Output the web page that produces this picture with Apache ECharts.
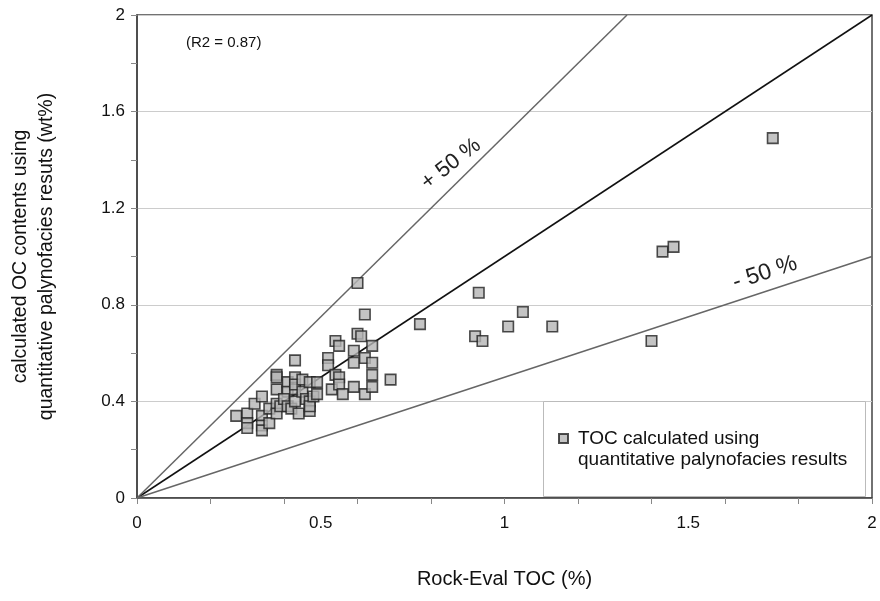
<!DOCTYPE html>
<html>
<head>
<meta charset="utf-8">
<script src="https://cdn.jsdelivr.net/npm/echarts@6/dist/echarts.min.js"></script>
<style>html,body{margin:0;padding:0;background:#fff}#c{width:880px;height:601px}</style>
</head>
<body>
<div id="c"></div>
<script>
// Rock-Eval TOC (%) vs calculated OC (wt%)
const tocPoints = [
  [0.27,0.34],
  [0.30,0.35],[0.30,0.31],[0.30,0.29],
  [0.32,0.39],
  [0.34,0.42],[0.34,0.34],[0.34,0.30],[0.34,0.28],
  [0.36,0.31],[0.36,0.37],
  [0.38,0.51],[0.38,0.50],[0.38,0.45],[0.38,0.39],[0.38,0.35],
  [0.39,0.38],
  [0.41,0.48],[0.41,0.44],[0.40,0.41],[0.41,0.38],[0.42,0.37],
  [0.43,0.57],[0.43,0.50],[0.43,0.45],[0.43,0.40],[0.43,0.47],
  [0.44,0.35],
  [0.45,0.49],[0.45,0.44],[0.46,0.41],
  [0.47,0.48],[0.47,0.40],[0.47,0.36],[0.47,0.38],
  [0.48,0.42],[0.49,0.48],[0.49,0.43],
  [0.52,0.58],[0.52,0.55],[0.53,0.45],
  [0.54,0.65],[0.55,0.63],[0.54,0.51],[0.55,0.50],[0.55,0.47],[0.56,0.43],
  [0.59,0.61],[0.59,0.56],[0.59,0.46],
  [0.60,0.89],[0.60,0.68],[0.61,0.67],
  [0.62,0.76],[0.62,0.58],[0.62,0.43],
  [0.64,0.63],[0.64,0.56],[0.64,0.51],[0.64,0.46],
  [0.69,0.49],
  [0.77,0.72],[0.93,0.85],[0.92,0.67],[0.94,0.65],[1.01,0.71],[1.05,0.77],
  [1.13,0.71],[1.40,0.65],[1.43,1.02],[1.46,1.04],[1.73,1.49]
];
const oneToOne = [[0,0],[2,2]];
const plus50 = [[0,0],[4/3,2]];
const minus50 = [[0,0],[2,1]];
const seriesName = 'TOC calculated using';
const seriesName2 = 'quantitative palynofacies results';

const chart = echarts.init(document.getElementById('c'));
const font = 'Liberation Sans, Arial, sans-serif';
chart.setOption({
  animation: false,
  textStyle: { fontFamily: font },
  grid: { left: 137, right: 8, top: 15, bottom: 103, show: true, borderColor: '#444', borderWidth: 1.5 },
  xAxis: [
    { type: 'value', min: 0, max: 2, interval: 0.5, position: 'bottom',
      axisLine: { show: true, lineStyle: { color: '#444', width: 1.5 } },
      axisTick: { show: false },
      axisLabel: { fontSize: 17, color: '#111', margin: 17, fontFamily: font },
      splitLine: { show: false },
      name: 'Rock-Eval TOC (%)', nameLocation: 'middle', nameGap: 71,
      nameTextStyle: { fontSize: 20, color: '#111', fontFamily: font } },
    { type: 'value', min: 0, max: 2, interval: 0.2, position: 'bottom',
      axisLine: { show: false }, axisTick: { show: true, length: 6, lineStyle: { color: '#888' } },
      axisLabel: { show: false }, splitLine: { show: false } }
  ],
  yAxis: [
    { type: 'value', min: 0, max: 2, interval: 0.4, position: 'left',
      axisLine: { show: true, lineStyle: { color: '#444', width: 1.5 } },
      axisTick: { show: false },
      axisLabel: { fontSize: 17, color: '#111', margin: 12, fontFamily: font },
      splitLine: { show: true, lineStyle: { color: '#ccc', width: 1.2 } },
      name: 'calculated OC contents using\nquantitative palynofacies resuts (wt%)',
      nameLocation: 'middle', nameGap: 77,
      nameTextStyle: { fontSize: 19.5, color: '#111', lineHeight: 26, fontFamily: font } },
    { type: 'value', min: 0, max: 2, interval: 0.2, position: 'left',
      axisLine: { show: false }, axisTick: { show: true, length: 6, lineStyle: { color: '#888' } },
      axisLabel: { show: false }, splitLine: { show: false } }
  ],
  legend: {
    data: [{ name: seriesName, icon: 'rect' }],
    left: 553, top: 424, itemWidth: 9, itemHeight: 9, itemGap: 0,
    textStyle: { fontSize: 19, color: '#111', fontFamily: font, padding: [0, 0, 0, 5] },
    selectedMode: false, z: 110
  },
  graphic: [
    { type: 'rect', left: 543, top: 401, shape: { width: 322, height: 95 },
      style: { fill: '#fff', stroke: '#bbb', lineWidth: 1 }, z: 100 },
    { type: 'text', left: 578, top: 450, style: { text: seriesName2, fontSize: 19, fill: '#111', fontFamily: font }, z: 110 },
    { type: 'text', left: 186, top: 35, style: { text: '(R2 = 0.87)', fontSize: 15, fill: '#111', fontFamily: font } },
    { type: 'text', x: 451, y: 164, rotation: 38 * Math.PI / 180,
      style: { text: '+ 50 %', fontSize: 22, fill: '#222', fontFamily: font, align: 'center', verticalAlign: 'middle' } },
    { type: 'text', x: 765, y: 273, rotation: 18 * Math.PI / 180,
      style: { text: '- 50 %', fontSize: 23, fill: '#222', fontFamily: font, align: 'center', verticalAlign: 'middle' } }
  ],
  series: [
    { type: 'line', data: oneToOne, showSymbol: false, silent: true, lineStyle: { color: '#111', width: 1.5 }, z: 2 },
    { type: 'line', data: plus50, showSymbol: false, silent: true, lineStyle: { color: '#666', width: 1.5 }, z: 2 },
    { type: 'line', data: minus50, showSymbol: false, silent: true, lineStyle: { color: '#666', width: 1.5 }, z: 2 },
    { name: seriesName, type: 'scatter', data: tocPoints, symbol: 'rect', symbolSize: 10.5,
      itemStyle: { color: '#b5b5b5', borderColor: '#222', borderWidth: 1.6 }, z: 5 }
  ]
});
</script>
</body>
</html>
